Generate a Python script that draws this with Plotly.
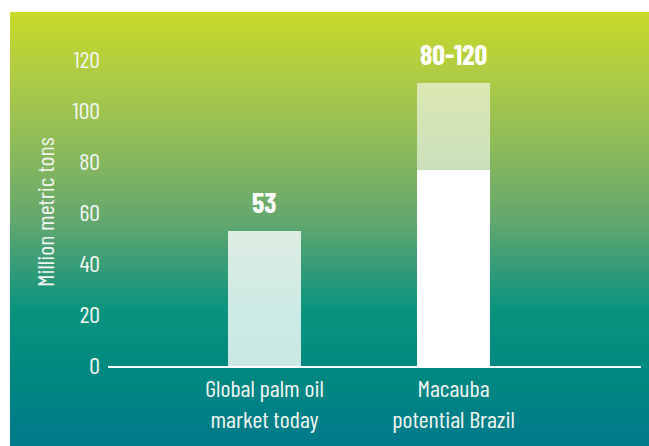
import plotly.graph_objects as go

categories = ["Global palm oil<br>market today", "Macauba<br>potential Brazil"]
base_values = [53, 77]
upper_values = [0, 34]
value_labels = ["53", "80-120"]
y_ticks = [0, 20, 40, 60, 80, 100, 120]
y_title = "Million metric tons"

W, H = 649, 446
ML, MR, MT, MB = 108, 8, 12, 80
PW, PH = W - ML - MR, H - MT - MB
PX_PER_UNIT = 2.55
y_top = PH / PX_PER_UNIT
cat_px = 189.0
x_lo = -(264.5 - ML) / cat_px
x_hi = x_lo + PW / cat_px

FONT = "Barlow Condensed, Roboto Condensed, sans-serif"
TXT = "#f2f5f2"

fig = go.Figure()
fig.add_trace(go.Bar(
    x=[0, 1], y=base_values, width=0.386,
    marker=dict(color=["rgba(255,255,255,0.8)", "rgba(255,255,255,1)"], line=dict(width=0)),
    hoverinfo="skip"))
fig.add_trace(go.Bar(
    x=[0, 1], y=upper_values, width=0.386,
    marker=dict(color="rgba(255,255,255,0.58)", line=dict(width=0)),
    hoverinfo="skip"))

totals = [b + u for b, u in zip(base_values, upper_values)]
for i, (t, lab) in enumerate(zip(totals, value_labels)):
    fig.add_annotation(x=i, y=t, text="<b>" + lab + "</b>", showarrow=False,
                       yanchor="bottom", yshift=10,
                       font=dict(family=FONT, size=28, color="white"))

# gradient background strips (pixel-row stops)
stops = [(12, (200, 218, 40)), (80, (172, 202, 70)), (150, (140, 186, 90)),
         (220, (100, 168, 110)), (270, (50, 155, 120)), (310, (10, 148, 125)),
         (366, (0, 138, 128)), (446, (0, 122, 138))]

def col_at(py):
    for (y0, c0), (y1, c1) in zip(stops[:-1], stops[1:]):
        if y0 <= py <= y1:
            t = (py - y0) / (y1 - y0)
            return tuple(round(a + (b - a) * t) for a, b in zip(c0, c1))
    return stops[-1][1]

def to_paper_y(py):
    return (MT + PH - py) / PH

def to_paper_x(px):
    return (px - ML) / PW

shapes = []
step = 2
for py in range(12, 446, step):
    c = col_at(py + step / 2)
    shapes.append(dict(type="rect", xref="paper", yref="paper", layer="below",
                       x0=to_paper_x(10), x1=to_paper_x(W),
                       y0=to_paper_y(py + step + 0.5), y1=to_paper_y(py),
                       fillcolor="rgb(%d,%d,%d)" % c, line=dict(width=0)))

fig.add_annotation(xref="paper", yref="paper", x=to_paper_x(44), y=to_paper_y(212),
                   text=y_title, textangle=-90, showarrow=False,
                   xanchor="center", yanchor="middle",
                   font=dict(family=FONT, size=24, color=TXT))

fig.update_layout(
    width=W, height=H, margin=dict(l=ML, r=MR, t=MT, b=MB),
    paper_bgcolor="white", plot_bgcolor="rgba(0,0,0,0)",
    barmode="stack", showlegend=False, shapes=shapes,
    xaxis=dict(range=[x_lo, x_hi], tickmode="array", tickvals=[0, 1], ticktext=categories,
               showgrid=False, zeroline=False, showline=True, linecolor="white", linewidth=1.5,
               ticks="", ticklabelstandoff=0, tickfont=dict(family=FONT, size=24, color=TXT)),
    yaxis=dict(range=[0, y_top], tickmode="array", tickvals=y_ticks,
               showgrid=False, zeroline=False, showline=False, ticks="", ticklen=0,
               ticklabelstandoff=7,
               tickfont=dict(family=FONT, size=24, color=TXT)),
)

fig.write_html("out.html")
